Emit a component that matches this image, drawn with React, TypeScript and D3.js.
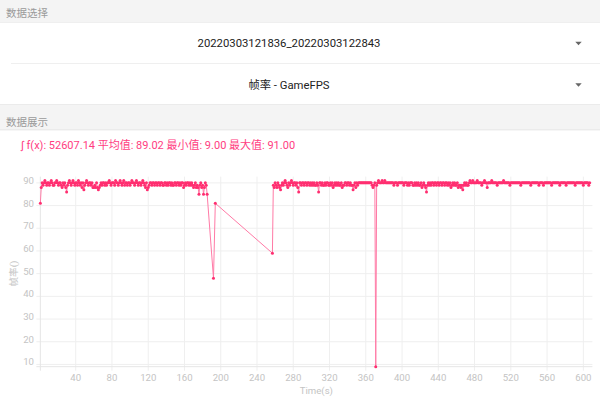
import React from "react";
import * as d3 from "d3";

const SESSION_LABEL = "20220303121836_20220303122843";
const METRIC_LABEL = "帧率 - GameFPS";
const STATS_TEXT = "∫ f(x): 52607.14 平均值: 89.02 最小值: 9.00 最大值: 91.00";
const X_TITLE = "Time(s)";
const Y_TITLE = "帧率()";

const X_TICKS = [40, 80, 120, 160, 200, 240, 280, 320, 360, 400, 440, 480, 520, 560, 600];
const Y_TICKS = [10, 20, 30, 40, 50, 60, 70, 80, 90];
const X_DOMAIN = [1, 610];
const Y_DOMAIN = [9, 91];

// FPS samples, one per second, starting at t = 1
const SEG1_START = 1;
const SEG1_VALUES = [
  81, 88, 90, 89, 90, 91, 90, 89, 90, 90,
  89, 90, 91, 90, 89, 89, 90, 90, 91, 90,
  89, 90, 90, 89, 88, 90, 89, 90, 88, 86,
  89, 90, 91, 90, 89, 90, 91, 90, 89, 90,
  90, 89, 91, 90, 89, 90, 88, 90, 87, 89,
  90, 91, 90, 89, 90, 90, 89, 90, 88, 88,
  89, 88, 90, 88, 87, 88, 89, 90, 89, 90,
  90, 89, 90, 89, 90, 90, 91, 90, 89, 90,
  90, 90, 89, 91, 90, 90, 89, 90, 91, 90,
  89, 90, 91, 89, 90, 90, 89, 90, 90, 89,
  90, 91, 90, 90, 89, 90, 91, 90, 89, 90,
  90, 89, 90, 91, 90, 89, 88, 90, 87, 88,
  89, 90, 90, 89, 90, 90, 89, 90, 90, 89,
  90, 90, 89, 90, 90, 89, 89, 90, 90, 89,
  90, 89, 90, 90, 89, 90, 89, 89, 90, 90,
  89, 90, 90, 89, 90, 89, 90, 90, 88, 89,
  90, 89, 90, 90, 89, 90, 89, 90, 89, 88,
  89, 90, 88, 89, 88, 85, 89, 90, 88, 89,
  85, 88, 90, 89, 85,
];
// sparse samples during the gap
const GAP_TIMES = [192, 194, 257];
const GAP_VALUES = [48, 81, 59];
// FPS samples, one per second, starting at t = 258
const SEG3_START = 258;
const SEG3_VALUES = [
  89, 88, 90, 89, 88, 90, 89, 88, 87, 89,
  90, 89, 90, 91, 90, 89, 88, 90, 89, 90,
  91, 90, 89, 90, 90, 89, 90, 88, 86, 90,
  90, 89, 90, 90, 89, 90, 90, 89, 90, 90,
  89, 90, 89, 90, 89, 90, 89, 89, 90, 89,
  86, 90, 90, 89, 90, 89, 89, 90, 89, 90,
  90, 89, 89, 90, 89, 90, 88, 89, 90, 89,
  90, 89, 90, 89, 89, 90, 88, 89, 89, 90,
  90, 89, 90, 90, 89, 90, 89, 89, 87, 89,
  90, 88, 90, 89, 90, 90, 90, 90, 90, 90,
  90, 90, 90, 90, 90, 90, 90, 90, 90, 89,
  88, 89, 90, 9, 89, 90, 91, 90, 90, 90,
  91, 90, 90, 91, 90, 90, 90, 90, 90, 90,
  90, 90, 90, 89, 90, 90, 90, 89, 90, 90,
  90, 90, 90, 90, 89, 90, 90, 90, 89, 90,
  89, 90, 90, 90, 89, 89, 90, 89, 90, 89,
  90, 89, 89, 90, 88, 89, 90, 89, 88, 86,
  89, 90, 89, 90, 89, 90, 90, 89, 90, 90,
  89, 90, 90, 89, 90, 90, 89, 90, 90, 89,
  90, 90, 89, 90, 89, 90, 88, 89, 90, 89,
  90, 89, 89, 90, 88, 89, 89, 88, 89, 87,
  89, 90, 89, 90, 89, 89, 90, 91, 90, 90,
  91, 90, 90, 90, 90, 91, 90, 90, 90, 90,
  89, 90, 90, 91, 90, 90, 88, 90, 90, 90,
  90, 91, 90, 90, 90, 90, 90, 89, 90, 90,
  90, 90, 90, 90, 91, 90, 90, 90, 90, 90,
  90, 89, 90, 90, 90, 90, 90, 90, 90, 90,
  90, 90, 90, 89, 90, 90, 90, 90, 90, 90,
  90, 90, 90, 90, 89, 90, 90, 90, 90, 90,
  90, 90, 90, 89, 90, 90, 90, 90, 89, 90,
  90, 90, 90, 90, 90, 90, 90, 89, 90, 90,
  90, 90, 90, 90, 90, 90, 89, 90, 90, 90,
  90, 90, 90, 89, 90, 90, 90, 90, 90, 90,
  90, 90, 90, 89, 90, 90, 90, 90, 90, 90,
  90, 90, 89, 90, 90, 90, 90, 90, 89, 90,
];

const FONT = "Roboto, 'Noto Sans CJK SC', 'Noto Sans', sans-serif";
const PINK = "#ff3d7f";
const LINE = "#ff7aa6";
const DOT = "#ff2e70";
const AXIS_TEXT = "#c4c4c4";
const GRID = "#efefef";

type Pt = { t: number; v: number };

export default function App() {
  const W = 600;
  const H = 401;
  const left = 40.35;
  const right = 592.4;
  const top = 180.6;
  const bottom = 366.7;

  const x = d3.scaleLinear().domain(X_DOMAIN).range([left, right]);
  const y = d3.scaleLinear().domain(Y_DOMAIN).range([bottom, top]);

  const data: Pt[] = [
    ...SEG1_VALUES.map((v, i) => ({ t: SEG1_START + i, v })),
    ...GAP_TIMES.map((t, i) => ({ t, v: GAP_VALUES[i] })),
    ...SEG3_VALUES.map((v, i) => ({ t: SEG3_START + i, v })),
  ];

  const line = d3
    .line<Pt>()
    .x((d) => x(d.t))
    .y((d) => y(d.v));

  const arrow = (cx: number, cy: number) =>
    `M${cx - 3.2},${cy - 1.8}L${cx + 3.2},${cy - 1.8}L${cx},${cy + 1.8}Z`;

  return (
    <svg
      width={W}
      height={H}
      style={{ position: "absolute", left: 0, top: 0, background: "#fff" }}
      fontFamily={FONT}
    >
      {/* header bands */}
      <rect x={0} y={0} width={W} height={22} fill="#f4f4f4" />
      <rect x={0} y={22} width={W} height={0.8} fill="#e6e6e6" />
      <text x={6} y={17} fontSize={10.5} fill="#9a9a9a">数据选择</text>
      <rect x={0} y={22.8} width={W} height={81} fill="#fff" />
      <text x={289} y={47} fontSize={11.3} fill="#222" textAnchor="middle">
        {SESSION_LABEL}
      </text>
      <path d={arrow(578.5, 43.5)} fill="#666" />
      <rect x={11} y={63} width={W - 11} height={0.8} fill="#ececec" />
      <text x={289} y={89} fontSize={11.3} fill="#222" textAnchor="middle">
        {METRIC_LABEL}
      </text>
      <path d={arrow(578.5, 85)} fill="#666" />
      <rect x={0} y={104} width={W} height={26} fill="#f4f4f4" />
      <rect x={0} y={104} width={W} height={0.8} fill="#e9e9e9" />
      <rect x={0} y={129.5} width={W} height={0.8} fill="#e2e2e2" />
      <text x={6} y={125.5} fontSize={10.5} fill="#9a9a9a">数据展示</text>

      <text x={21} y={148.5} fontSize={11} fill={PINK}>
        {STATS_TEXT}
      </text>

      {/* grid */}
      {Y_TICKS.map((t) => (
        <line key={"gy" + t} x1={left - 4} x2={right} y1={y(t)} y2={y(t)} stroke={GRID} strokeWidth={1} />
      ))}
      {X_TICKS.map((t) => (
        <line key={"gx" + t} x1={x(t)} x2={x(t)} y1={top - 4} y2={bottom + 4} stroke={GRID} strokeWidth={1} />
      ))}
      <line x1={left} x2={left} y1={top - 4} y2={bottom + 4} stroke="#e6e6e6" strokeWidth={1} />
      <line x1={left - 4} x2={right} y1={bottom} y2={bottom} stroke="#e6e6e6" strokeWidth={1} />

      {/* axis labels */}
      {Y_TICKS.map((t) => (
        <text key={"ly" + t} x={34} y={y(t) + 1} fontSize={9.6} fill={AXIS_TEXT} textAnchor="end">
          {t}
        </text>
      ))}
      {X_TICKS.map((t) => (
        <text key={"lx" + t} x={x(t)} y={381} fontSize={9.6} fill={AXIS_TEXT} textAnchor="middle">
          {t}
        </text>
      ))}
      <text x={(left + right) / 2} y={393.5} fontSize={9.6} fill={AXIS_TEXT} textAnchor="middle">
        {X_TITLE}
      </text>
      <text
        transform={`translate(16.5, ${(top + bottom) / 2}) rotate(-90)`}
        fontSize={9.6}
        fill={AXIS_TEXT}
        textAnchor="middle"
      >
        {Y_TITLE}
      </text>

      {/* series */}
      <path d={line(data) || ""} fill="none" stroke={LINE} strokeWidth={1} />
      {data.map((d, i) => (
        <circle key={i} cx={x(d.t)} cy={y(d.v)} r={1.5} fill={DOT} />
      ))}
    </svg>
  );
}
